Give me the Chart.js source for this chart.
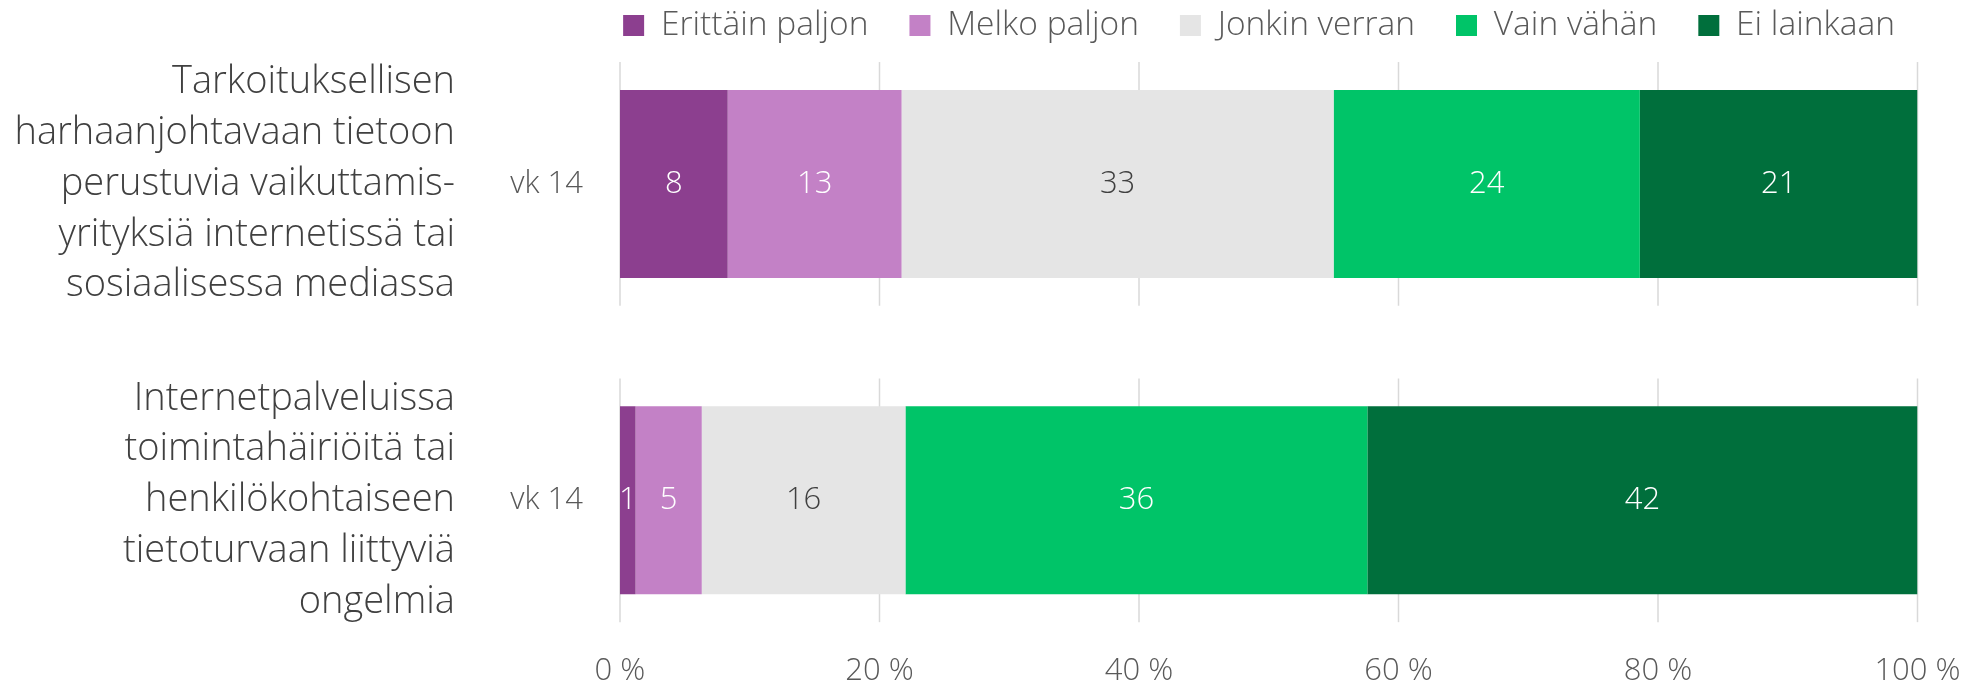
<!DOCTYPE html>
<html>
<head>
<meta charset="utf-8">
<script src="https://cdn.jsdelivr.net/npm/chart.js"></script>
<style>
  body { margin: 0; background: #ffffff; }
  canvas { display: block; }
</style>
</head>
<body>
<canvas id="myChart" width="1967" height="687"></canvas>
<script>
// categories (outer group label + inner week label)
var groups = [
    ["Tarkoituksellisen", "harhaanjohtavaan tietoon", "perustuvia vaikuttamis-", "yrityksiä internetissä tai", "sosiaalisessa mediassa"],
    ["Internetpalveluissa", "toimintahäiriöitä tai", "henkilökohtaiseen", "tietoturvaan liittyviä", "ongelmia"]
];
var weeks = ["vk 14", "vk 14"];

// series, percent
var seriesNames = ["Erittäin paljon", "Melko paljon", "Jonkin verran", "Vain vähän", "Ei lainkaan"];
var erittainPaljon = [8.3, 1.2];
var melkoPaljon = [13.4, 5.1];
var jonkinVerran = [33.3, 15.7];
var vainVahan = [23.6, 35.6];
var eiLainkaan = [21.4, 42.4];

var xTicks = [0, 20, 40, 60, 80, 100];

var colors = ["#8c3f8f", "#c381c6", "#e5e5e5", "#00c468", "#006f3c"];
var labelColors = ["#ffffff", "#ffffff", "#404040", "#ffffff", "#ffffff"];

var FONT = "'Open Sans', 'Noto Sans', sans-serif";

var seriesValues = [erittainPaljon, melkoPaljon, jonkinVerran, vainVahan, eiLainkaan];
var datasets = [];
for (var i = 0; i < seriesNames.length; i++) {
    datasets.push({
        label: seriesNames[i],
        data: seriesValues[i].map(function(v, idx){ return {x: v, y: idx}; }),
        backgroundColor: colors[i],
        borderWidth: 0,
        categoryPercentage: 1,
        barPercentage: 0.594
    });
}

// gridlines only around each bar, like in the excel original
var segmentGrid = {
    id: "segmentGrid",
    beforeDatasetsDraw: function(chart){
        var ctx = chart.ctx;
        var xs = chart.scales.x;
        var ys = chart.scales.y;
        var half = 0.385 * Math.abs(ys.getPixelForValue(1) - ys.getPixelForValue(0));
        ctx.save();
        ctx.strokeStyle = "#d9d9d9";
        ctx.lineWidth = 1.5;
        xTicks.forEach(function(t){
            var px = xs.getPixelForValue(t);
            groups.forEach(function(g, idx){
                var cy = ys.getPixelForValue(idx);
                ctx.beginPath();
                ctx.moveTo(px, cy - half);
                ctx.lineTo(px, cy + half);
                ctx.stroke();
            });
        });
        ctx.restore();
    }
};

// value labels in the middle of each segment
var barLabels = {
    id: "barLabels",
    afterDatasetsDraw: function(chart){
        var ctx = chart.ctx;
        ctx.save();
        ctx.font = "300 31px " + FONT;
        ctx.textAlign = "center";
        ctx.textBaseline = "middle";
        chart.data.datasets.forEach(function(ds, i){
            var meta = chart.getDatasetMeta(i);
            meta.data.forEach(function(bar, j){
                var p = bar.getCenterPoint();
                ctx.fillStyle = labelColors[i];
                ctx.fillText(Math.round(seriesValues[i][j]), p.x, p.y);
            });
        });
        ctx.restore();
    }
};

var yMin = -0.416, yMax = 1.487;

// labels sit at the bar centres, so no extra room is needed above / below
function noEdgePadding(scale, w){
    scale.width = w;
    scale.paddingTop = 0;
    scale.paddingBottom = 0;
}

new Chart(document.getElementById("myChart"), {
    type: "bar",
    data: { datasets: datasets },
    plugins: [segmentGrid, barLabels],
    options: {
        indexAxis: "y",
        responsive: false,
        animation: false,
        layout: { padding: { left: 0, right: 31, top: 0, bottom: 0 } },
        plugins: {
            tooltip: { enabled: false },
            legend: {
                position: "top",
                align: "end",
                // empty title with negative padding pulls the legend row up
                title: { display: true, text: "", font: { size: 1, lineHeight: 1 }, padding: { top: 0, bottom: -33.25 } },
                labels: {
                    boxWidth: 21,
                    boxHeight: 21,
                    padding: 41,
                    color: "#595959",
                    font: { family: FONT, size: 33.5, weight: 300 }
                }
            }
        },
        scales: {
            x: {
                type: "linear",
                stacked: true,
                min: 0,
                max: 100,
                grid: { display: false, drawTicks: false },
                border: { display: false },
                afterBuildTicks: function(scale){
                    scale.ticks = xTicks.map(function(v){ return {value: v}; });
                },
                afterFit: function(scale){ scale.paddingRight = 49.5; },
                ticks: {
                    padding: 0,
                    color: "#595959",
                    font: { family: FONT, size: 31, weight: 300, lineHeight: 1.05 },
                    callback: function(v){ return v + " %"; }
                }
            },
            y: {
                type: "linear",
                stacked: true,
                reverse: true,
                offset: false,
                bounds: "data",
                min: yMin,
                max: yMax,
                weight: 0,
                grid: { display: false, drawTicks: false },
                border: { display: false },
                afterBuildTicks: function(scale){
                    scale.ticks = weeks.map(function(w, idx){ return {value: idx}; });
                },
                afterFit: function(scale){ noEdgePadding(scale, 112); },
                ticks: {
                    padding: 37,
                    color: "#595959",
                    font: { family: FONT, size: 31, weight: 300 },
                    callback: function(v){ return weeks[v]; }
                }
            },
            y2: {
                type: "linear",
                position: "left",
                reverse: true,
                offset: false,
                bounds: "data",
                min: yMin,
                max: yMax,
                weight: 1,
                grid: { display: false, drawTicks: false },
                border: { display: false },
                afterBuildTicks: function(scale){
                    scale.ticks = groups.map(function(g, idx){ return {value: idx}; });
                },
                afterFit: function(scale){ noEdgePadding(scale, 508); },
                ticks: {
                    padding: 53,
                    color: "#404040",
                    font: { family: FONT, size: 38, weight: 300, lineHeight: 1.337 },
                    callback: function(v){ return groups[v]; }
                }
            }
        }
    }
});
</script>
</body>
</html>
